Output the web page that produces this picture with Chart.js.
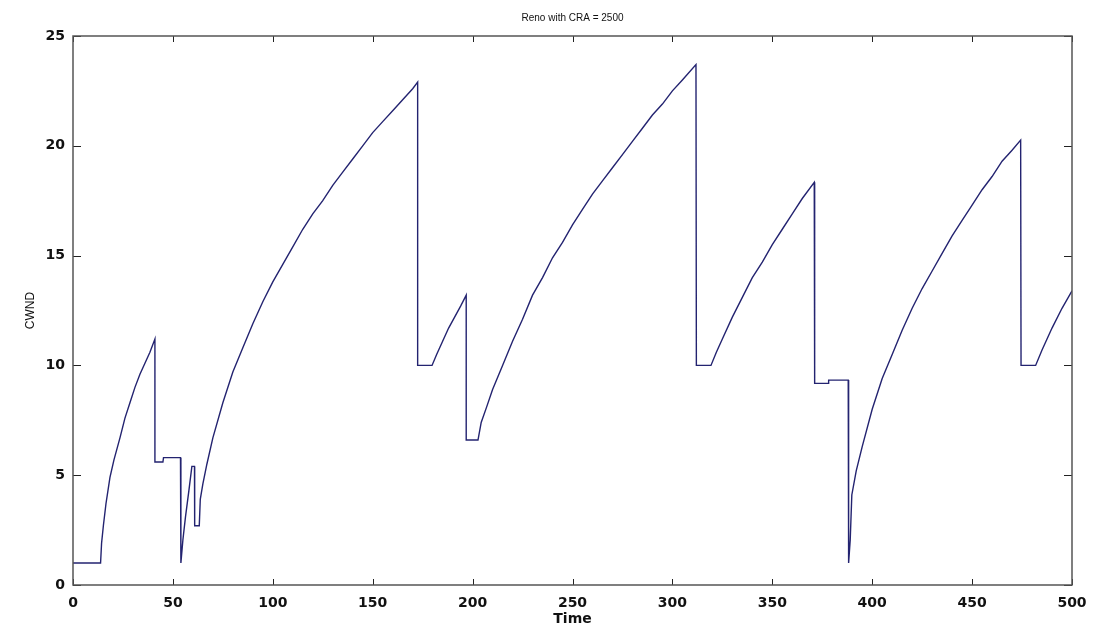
<!DOCTYPE html>
<html>
<head>
<meta charset="utf-8">
<script src="https://cdn.jsdelivr.net/npm/chart.js@4.4.1/dist/chart.umd.min.js"></script>
<style>
  body { margin: 0; background: #fff; }
  #wrap { width: 1095px; height: 628px; }
</style>
</head>
<body>
<div id="wrap"><canvas id="cwndChart"></canvas></div>
<script>
// values (time, cwnd)
const time = [
  0, 13.8, 14.3, 15.2, 16.5, 18.5, 20.5, 23.5, 26, 28.5, 31, 33.5, 36, 38.5, 41,
  41, 45, 45.3, 53.8, 54, 55, 56.3, 58, 59.5, 60.8, 60.9, 63.2, 63.7,
  65, 67, 70, 75, 80, 85, 90, 95, 100, 105, 110, 115, 120, 125, 130, 135, 140,
  145, 150, 155, 160, 165, 170, 172.5,
  172.5, 179.7, 182, 185, 188, 191, 194, 196.8,
  196.8, 202.7, 204.3, 207, 210, 215, 220, 225, 230, 235, 240, 245, 250, 255,
  260, 265, 270, 275, 280, 285, 290, 295, 300, 305, 311.8,
  312, 319.3, 322, 325, 330, 335, 340, 345, 350, 355, 360, 365, 371,
  371.2, 378, 378.2, 388, 388.2, 389, 389.8, 392, 395, 400, 405, 410, 415, 420,
  425, 430, 435, 440, 445, 450, 455, 460, 465, 470, 474.3,
  474.5, 481.8, 485, 490, 495, 500
];
const cwnd = [
  1, 1, 1.9, 2.7, 3.7, 4.9, 5.7, 6.7, 7.6, 8.3, 9.0, 9.6, 10.1, 10.6, 11.2,
  5.6, 5.6, 5.8, 5.8, 1.0, 2.05, 3.1, 4.3, 5.4, 5.4, 2.7, 2.7, 3.9,
  4.6, 5.5, 6.7, 8.3, 9.7, 10.8, 11.9, 12.9, 13.8, 14.6, 15.4, 16.2, 16.9, 17.5, 18.2, 18.8, 19.4,
  20.0, 20.6, 21.1, 21.6, 22.1, 22.6, 22.9,
  10, 10, 10.5, 11.1, 11.7, 12.2, 12.7, 13.2,
  6.6, 6.6, 7.4, 8.1, 8.9, 10.0, 11.1, 12.1, 13.2, 14.0, 14.9, 15.6, 16.4, 17.1,
  17.8, 18.4, 19.0, 19.6, 20.2, 20.8, 21.4, 21.9, 22.5, 23.0, 23.7,
  10, 10, 10.6, 11.2, 12.2, 13.1, 14.0, 14.7, 15.5, 16.2, 16.9, 17.6, 18.34,
  9.18, 9.18, 9.33, 9.33, 1.0, 2.05, 4.1, 5.2, 6.3, 8.0, 9.4, 10.5, 11.6, 12.6,
  13.5, 14.3, 15.1, 15.9, 16.6, 17.3, 18.0, 18.6, 19.3, 19.8, 20.26,
  10, 10, 10.7, 11.7, 12.6, 13.4
];
const xTicks = [0, 50, 100, 150, 200, 250, 300, 350, 400, 450, 500];
const yTicks = [0, 5, 10, 15, 20, 25];
const chartTitle = 'Reno with CRA = 2500';

const points = time.map((t, i) => ({ x: t, y: cwnd[i] }));

// MATLAB-like box with inward ticks on all four sides, title centred on the plot
const boxPlugin = {
    id: 'box',
    afterDraw(chart) {
        const { ctx, chartArea: a, scales } = chart;
        ctx.save();
        ctx.strokeStyle = '#222';
        ctx.lineWidth = 1;
        ctx.beginPath();
        xTicks.forEach(v => {
            const px = Math.round(scales.x.getPixelForValue(v)) + 0.5;
            ctx.moveTo(px, a.bottom); ctx.lineTo(px, a.bottom - 6);
            ctx.moveTo(px, a.top); ctx.lineTo(px, a.top + 6);
        });
        yTicks.forEach(v => {
            const py = Math.round(scales.y.getPixelForValue(v)) + 0.5;
            ctx.moveTo(a.left, py); ctx.lineTo(a.left + 8, py);
            ctx.moveTo(a.right, py); ctx.lineTo(a.right - 8, py);
        });
        ctx.stroke();
        ctx.strokeStyle = '#555';
        ctx.lineWidth = 1.5;
        ctx.strokeRect(a.left, a.top, a.right - a.left, a.bottom - a.top);

        ctx.fillStyle = '#111';
        ctx.font = '10px "Liberation Sans"';
        ctx.textAlign = 'center';
        ctx.textBaseline = 'middle';
        ctx.fillText(chartTitle, (a.left + a.right) / 2, 18);
        ctx.restore();
    }
};

new Chart(document.getElementById('cwndChart'), {
    type: 'line',
    data: {
        datasets: [{
            data: points,
            borderColor: '#232370',
            borderWidth: 1.4,
            pointRadius: 0,
            tension: 0,
            fill: false
        }]
    },
    options: {
        responsive: true,
        maintainAspectRatio: false,
        animation: false,
        layout: { padding: { left: 0, right: 23, top: 36, bottom: 0 } },
        plugins: {
            legend: { display: false },
            tooltip: { enabled: false },
            title: { display: false }
        },
        scales: {
            x: {
                type: 'linear',
                min: 0,
                max: 500,
                afterFit(scale) {
                    scale.height = 43;
                    scale.paddingLeft = 0;
                    scale.paddingRight = 0;
                },
                afterBuildTicks(scale) { scale.ticks = xTicks.map(v => ({ value: v })); },
                grid: { display: false, drawTicks: false },
                border: { display: false },
                ticks: {
                    color: '#111',
                    padding: 10,
                    maxRotation: 0,
                    font: { family: 'DejaVu Sans', size: 14, weight: 'bold' }
                },
                title: {
                    display: true,
                    text: 'Time',
                    color: '#111',
                    padding: { top: 0, bottom: 0 },
                    font: { family: 'DejaVu Sans', size: 14, weight: 'bold' }
                }
            },
            y: {
                min: 0,
                max: 25,
                afterFit(scale) {
                    scale.width = 73;
                    scale.paddingTop = 0;
                    scale.paddingBottom = 0;
                },
                afterBuildTicks(scale) { scale.ticks = yTicks.map(v => ({ value: v })); },
                grid: { display: false, drawTicks: false },
                border: { display: false },
                ticks: {
                    color: '#111',
                    padding: 8,
                    font: { family: 'DejaVu Sans', size: 14, weight: 'bold' }
                },
                title: {
                    display: true,
                    text: 'CWND',
                    color: '#111',
                    padding: { top: 23, bottom: 0 },
                    font: { family: 'Liberation Sans', size: 12, weight: 'normal' }
                }
            }
        }
    },
    plugins: [boxPlugin]
});
</script>
</body>
</html>
